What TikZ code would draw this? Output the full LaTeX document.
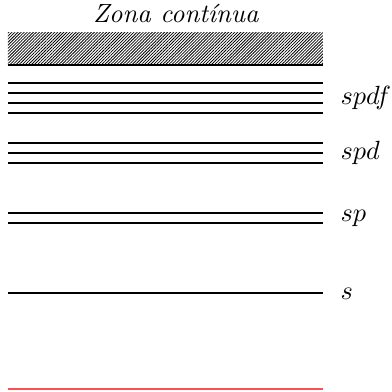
\documentclass[tikz,border=0pt]{standalone}
\usetikzlibrary{patterns.meta}
\begin{document}
\begin{tikzpicture}[x=0.38pt,y=-0.38pt,
  level/.style={line width=0.4pt},
  lbl/.style={anchor=west,inner sep=0pt}]
\useasboundingbox (0,0) rectangle (392,392);
\node[inner sep=0pt] (title) at (176,13) {\textit{Zona contínua}};
\path[pattern={Lines[angle=45,distance=0.82pt,line width=0.3pt]}] (8,32) rectangle (323,65);
\draw[level] (8,65) -- (323,65);
\foreach \y in {83,93,103,113} \draw[level] (8,\y) -- (323,\y);
\foreach \y in {143,153,163} \draw[level] (8,\y) -- (323,\y);
\foreach \y in {213,223} \draw[level] (8,\y) -- (323,\y);
\draw[level] (8,293) -- (323,293);
\draw[level,red!70] (8,389) -- (323,389);
\node[lbl] (spdf) at (340,98) {$spdf$};
\node[lbl] (spd) at (340,153) {$spd$};
\node[lbl] (sp) at (340,218) {$sp$};
\node[lbl] (s) at (340,294) {$s$};
\end{tikzpicture}
\end{document}
